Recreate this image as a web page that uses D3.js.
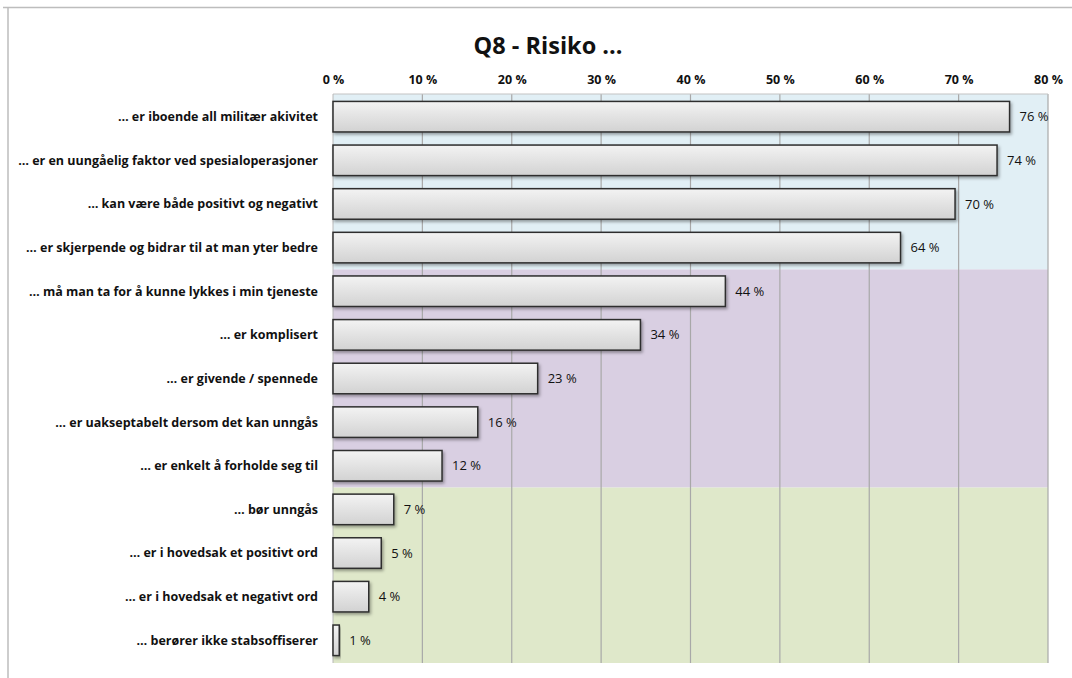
<!DOCTYPE html>
<html><head><meta charset="utf-8">
<script src="https://cdn.jsdelivr.net/npm/d3@7"></script>
<style>body{margin:0;background:#fff;} svg{display:block;}</style>
</head><body>
<svg id="chart" width="1072" height="678"></svg>
<script>
const categories = [
  "… er iboende all militær akivitet",
  "… er en uungåelig faktor ved spesialoperasjoner",
  "… kan være både positivt og negativt",
  "… er skjerpende og bidrar til at man yter bedre",
  "… må man ta for å kunne lykkes i min tjeneste",
  "… er komplisert",
  "… er givende / spennede",
  "… er uakseptabelt dersom det kan unngås",
  "… er enkelt å forholde seg til",
  "… bør unngås ",
  "… er i hovedsak et positivt ord",
  "… er i hovedsak et negativt ord",
  "… berører ikke stabsoffiserer"
];
const values = [75.7, 74.3, 69.6, 63.5, 43.9, 34.4, 22.9, 16.2, 12.2, 6.8, 5.4, 4.0, 0.7];
const tickValues = [0, 10, 20, 30, 40, 50, 60, 70, 80];
const zones = [
  {from: 0, to: 4, color: "#e1eff5"},
  {from: 4, to: 9, color: "#d9cfe2"},
  {from: 9, to: 13, color: "#dfe8ca"}
];
const title = "Q8 - Risiko ...";

const svg = d3.select("#chart");
const font = "'Open Sans', 'Liberation Sans', sans-serif";
const m = {left: 333, right: 1048, top: 94, bottom: 663};

// outer frame lines
svg.append("line").attr("x1", 3).attr("x2", 1072).attr("y1", 7.5).attr("y2", 7.5).attr("stroke", "#bdbdbd").attr("stroke-width", 1.5);
svg.append("line").attr("x1", 8).attr("x2", 8).attr("y1", 7).attr("y2", 678).attr("stroke", "#bdbdbd").attr("stroke-width", 1.5);

const x = d3.scaleLinear().domain([0, 80]).range([m.left, m.right]);
const y = d3.scaleBand().domain(categories).range([m.top, m.bottom]).paddingInner(0.3).paddingOuter(0.17);
const bandTop = i => i === 0 ? m.top : (i === categories.length ? m.bottom : y(categories[i]) - y.step() * y.paddingInner() / 2);

// background zones
svg.selectAll("rect.zone").data(zones).enter().append("rect")
  .attr("x", m.left).attr("width", m.right - m.left)
  .attr("y", d => bandTop(d.from))
  .attr("height", d => bandTop(d.to) - bandTop(d.from))
  .attr("fill", d => d.color);

// gridlines
svg.append("g").selectAll("line").data(tickValues.slice(1)).enter().append("line")
  .attr("x1", d => x(d)).attr("x2", d => x(d))
  .attr("y1", m.top).attr("y2", m.bottom)
  .attr("stroke", "#a8a8a8").attr("stroke-width", 1.2);
svg.append("line").attr("x1", m.left).attr("x2", m.right).attr("y1", m.top).attr("y2", m.top)
  .attr("stroke", "#c4c4c4").attr("stroke-width", 1.2);
svg.append("line").attr("x1", m.left).attr("x2", m.left).attr("y1", m.top).attr("y2", m.bottom)
  .attr("stroke", "#b8b8b8").attr("stroke-width", 1);

// axis (top)
const axis = d3.axisTop(x).tickValues(tickValues).tickSize(0).tickPadding(0).tickFormat(d => d + " %");
const ag = svg.append("g").attr("transform", `translate(0,${m.top - 10})`).call(axis);
ag.select(".domain").remove();
ag.selectAll("text").attr("font-family", font).attr("font-size", 12.5).attr("font-weight", "bold").attr("fill", "#111");

// gradient & shadow
const defs = svg.append("defs");
const grad = defs.append("linearGradient").attr("id", "barGrad").attr("x1", 0).attr("y1", 0).attr("x2", 0).attr("y2", 1);
grad.append("stop").attr("offset", "0%").attr("stop-color", "#f3f3f3");
grad.append("stop").attr("offset", "100%").attr("stop-color", "#d2d2d2");
const filt = defs.append("filter").attr("id", "shadow").attr("x", "-10%").attr("y", "-20%").attr("width", "130%").attr("height", "160%");
filt.append("feDropShadow").attr("dx", 1.5).attr("dy", 2).attr("stdDeviation", 1.5).attr("flood-color", "#000").attr("flood-opacity", 0.35);

// bars
svg.append("g").selectAll("rect").data(values).enter().append("rect")
  .attr("x", x(0))
  .attr("y", (d, i) => y(categories[i]))
  .attr("width", d => x(d) - x(0))
  .attr("height", y.bandwidth())
  .attr("fill", "url(#barGrad)")
  .attr("stroke", "#2e2e2e").attr("stroke-width", 1.5)
  .attr("filter", "url(#shadow)");

// value labels
svg.append("g").selectAll("text").data(values).enter().append("text")
  .attr("x", d => x(d) + 10)
  .attr("y", (d, i) => y(categories[i]) + y.bandwidth() / 2)
  .attr("dy", "0.35em")
  .attr("font-family", font).attr("font-size", 13).attr("fill", "#111")
  .text(d => Math.round(d) + " %");

// category labels
svg.append("g").selectAll("text").data(categories).enter().append("text")
  .attr("x", 318)
  .attr("y", d => y(d) + y.bandwidth() / 2)
  .attr("dy", "0.35em")
  .attr("text-anchor", "end")
  .attr("font-family", font).attr("font-size", 12.5).attr("font-weight", "bold").attr("fill", "#111")
  .text(d => d);

// title
svg.append("text").attr("x", 548).attr("y", 54).attr("text-anchor", "middle")
  .attr("font-family", font).attr("font-size", 23.5).attr("font-weight", "bold").attr("fill", "#111")
  .text(title);
</script>
</body></html>
